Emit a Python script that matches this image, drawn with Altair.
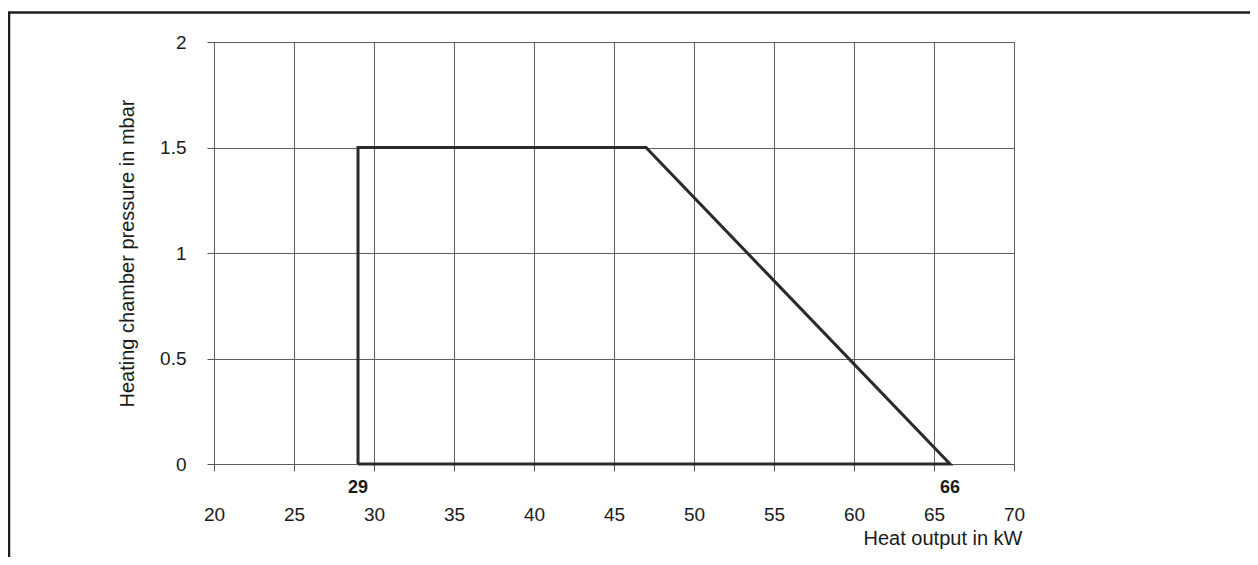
import altair as alt
import pandas as pd

# Outline of the working range (closed polygon)
heat_output_kw = [29, 29, 47, 66, 29]
pressure_mbar = [0, 1.5, 1.5, 0, 0]

# Highlighted limits shown below the x axis
limit_values = [29, 66]
limit_labels = ["29", "66"]

x_ticks = [20, 25, 30, 35, 40, 45, 50, 55, 60, 65, 70]
y_ticks = [0, 0.5, 1, 1.5, 2]

poly = pd.DataFrame({"x": heat_output_kw, "y": pressure_mbar, "i": list(range(len(heat_output_kw)))})
limits = pd.DataFrame({"x": limit_values, "t": limit_labels})

W, H = 800, 422
PAD = {"left": 206, "top": 34, "right": 236, "bottom": 93}
FONT = "Liberation Sans"

x_scale = alt.Scale(domain=[20, 70], nice=False, zero=False)
y_scale = alt.Scale(domain=[0, 2], nice=False)

x_axis = alt.Axis(
    values=x_ticks, title="Heat output in kW", grid=True, gridColor="#5e5e5e", gridWidth=1,
    domain=False, ticks=True, tickSize=7, tickColor="#555", tickWidth=1,
    labelFontSize=19, labelColor="#1a1a1a", labelPadding=49, labelBaseline="alphabetic",
    labelFont=FONT, labelFlush=False,
    titleFont=FONT, titleFontSize=20, titleFontWeight="normal", titleColor="#1a1a1a",
    titleAlign="right", titleBaseline="alphabetic", titleX=808, titleY=80, titleAnchor="end",
)
y_axis = alt.Axis(
    values=y_ticks, format="~g", title="Heating chamber pressure in mbar", grid=True,
    gridColor="#5e5e5e", gridWidth=1, domain=False, ticks=True, tickSize=7, tickColor="#555",
    tickWidth=1, labelFontSize=19, labelColor="#1a1a1a", labelPadding=21, labelFont=FONT,
    labelBaseline="middle", labelFlush=False,
    titleFont=FONT, titleFontSize=20, titleFontWeight="normal", titleColor="#1a1a1a",
    titleAngle=270, titleAlign="center", titleBaseline="alphabetic", titleX=-81, titleY=211,
)

outline = alt.Chart(poly).mark_line(color="#2a2a2a", strokeWidth=3, strokeJoin="miter").encode(
    x=alt.X("x:Q", scale=x_scale, axis=x_axis),
    y=alt.Y("y:Q", scale=y_scale, axis=y_axis),
    order=alt.Order("i:Q"),
)

limit_text = alt.Chart(limits).mark_text(
    font=FONT, fontSize=18, fontWeight="bold", color="#1a1a1a", baseline="alphabetic", align="center"
).encode(
    x=alt.X("x:Q", scale=x_scale),
    y=alt.value(H + 29),
    text="t:N",
)

one = alt.Data(values=[{"k": 1}])
frame_top = alt.Chart(one).mark_rule(color="#1e1e1e", strokeWidth=2.5).encode(
    x=alt.value(-206), x2=alt.value(1036), y=alt.value(-29.5)
)
frame_left = alt.Chart(one).mark_rule(color="#1e1e1e", strokeWidth=2.5).encode(
    x=alt.value(-205), y=alt.value(-30), y2=alt.value(515)
)

chart = alt.layer(outline, limit_text, frame_top, frame_left).properties(
    width=W, height=H,
    autosize=alt.AutoSizeParams(type="none"),
    padding=PAD,
    background="white",
).configure_view(
    stroke="#555", strokeWidth=1
)

chart.save("out.html", embed_options={"renderer": "svg", "actions": False})
